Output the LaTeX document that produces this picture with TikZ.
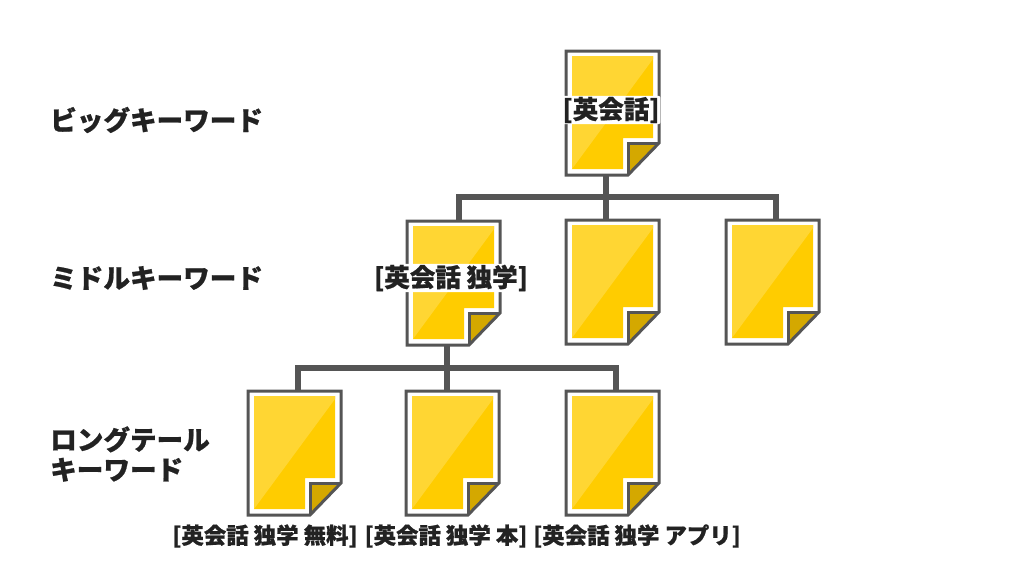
\documentclass[tikz,border=0pt]{standalone}
\usepackage{fontspec}
\setmainfont{Noto Sans CJK JP Black}[FakeBold=0.8]
\definecolor{stroke}{HTML}{555555}
\definecolor{ink}{HTML}{222222}
\definecolor{pageyellow}{HTML}{FFCC00}
\definecolor{pagelight}{HTML}{FFD633}
\definecolor{foldyellow}{HTML}{D4A800}
\tikzset{
  pagebox/.style={minimum width=93pt,minimum height=124pt,inner sep=0pt,outer sep=0pt},
  outline/.style={draw=stroke,line width=3pt,line join=miter},
  bus/.style={draw=stroke,line width=5.5pt},
  rowlabel/.style={anchor=west,align=left,font=\fontsize{26.6pt}{30pt}\selectfont,text=ink,inner sep=0pt},
  pagelabel/.style={font=\fontsize{25.5pt}{28pt}\selectfont,text=ink,fill=white,inner sep=1pt,rounded corners=2pt},
  namelabel/.style={font=\fontsize{22.4pt}{24pt}\selectfont,text=ink,inner sep=0pt},
}
\newcommand{\pagedoc}[3]{%
  \node[pagebox] (#1) at (#2+46.5,#3+62) {};
  \begin{scope}[shift={(#2,#3)}]
    \fill[white] (0,0) -- (93,0) -- (93,92) -- (62,124) -- (0,124) -- cycle;
    \fill[pageyellow] (6,5) -- (87,5) -- (87,87) -- (57,87) -- (57,118) -- (6,118) -- cycle;
    \fill[pagelight] (6,5) -- (87,5) -- (87,8) -- (6,118) -- cycle;
    \fill[foldyellow] (62,92) -- (93,92) -- (62,124) -- cycle;
    \draw[outline] (0,0) -- (93,0) -- (93,92) -- (62,124) -- (0,124) -- cycle;
    \draw[outline] (93,92) -- (62,92) -- (62,124);
  \end{scope}%
}
\begin{document}
\begin{tikzpicture}[x=1pt,y=-1pt]
\useasboundingbox (0,0) rectangle (1024,576);
\coordinate (busA) at (606,197);
\coordinate (busB) at (447,368);
\coordinate (t1) at (606,175);
\coordinate (a1) at (459,220);
\coordinate (a2) at (606,220);
\coordinate (a3) at (776,220);
\coordinate (t2) at (447,345);
\coordinate (b1) at (298,391);
\coordinate (b2) at (447,391);
\coordinate (b3) at (616,391);
\draw[bus] (t1) -- (a2);
\draw[bus] (a1) -- (a1 |- busA) -- (a3 |- busA) -- (a3);
\draw[bus] (t2) -- (b2);
\draw[bus] (b1) -- (b1 |- busB) -- (b3 |- busB) -- (b3);
\pagedoc{top}{566}{51}
\pagedoc{midA}{407}{221}
\pagedoc{midB}{566}{220}
\pagedoc{midC}{726}{220}
\pagedoc{lowA}{248}{391}
\pagedoc{lowB}{406}{391}
\pagedoc{lowC}{566}{391}
\node[rowlabel] (rowA) at (50,120) {ビッグキーワード};
\node[rowlabel] (rowB) at (50,278) {ミドルキーワード};
\node[rowlabel,text width=220pt] (rowC) at (50,454) {ロングテール\\キーワード};
\node[pagelabel] (labTop) at (611,110) {[英会話]};
\node[pagelabel] (labMid) at (451,278) {[英会話 独学]};
\node[namelabel] (labA) at (265,536) {[英会話 独学 無料]};
\node[namelabel] (labB) at (446,536) {[英会話 独学 本]};
\node[namelabel] (labC) at (637,536) {[英会話 独学 アプリ]};
\end{tikzpicture}
\end{document}
